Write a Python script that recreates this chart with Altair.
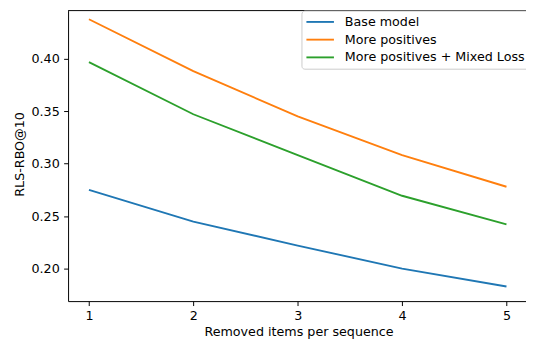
import altair as alt
import pandas as pd

x_vals = [1, 2, 3, 4, 5]
base_model = [0.275, 0.2447, 0.222, 0.200, 0.183]
more_positives = [0.4375, 0.388, 0.345, 0.308, 0.278]
mixed_loss = [0.3966, 0.347, 0.308, 0.2694, 0.2422]
series_names = ["Base model", "More positives", "More positives + Mixed Loss"]
colors = ["#1f77b4", "#ff7f0e", "#2ca02c"]
y_ticks = [0.20, 0.25, 0.30, 0.35, 0.40]

rows = []
for name, vals in zip(series_names, [base_model, more_positives, mixed_loss]):
    for x, v in zip(x_vals, vals):
        rows.append({"x": x, "y": v, "series": name})
df = pd.DataFrame(rows)

W, H = 465, 295
FONT = "DejaVu Sans"
FS = 12.9

lines = alt.Chart(df).mark_line(strokeWidth=1.9, clip=True).encode(
    x=alt.X(
        "x:Q",
        scale=alt.Scale(domain=[0.8, 5.187], nice=False, zero=False),
        axis=alt.Axis(
            values=x_vals, format="d", title="Removed items per sequence",
            tickSize=4.5, labelPadding=4, titleX=234, titleY=35,
            titleAlign="center", titleBaseline="alphabetic",
        ),
    ),
    y=alt.Y(
        "y:Q",
        scale=alt.Scale(domain=[0.1691, 0.4457], nice=False, zero=False),
        axis=alt.Axis(
            values=y_ticks, format=".2f", title="RLS-RBO@10",
            tickSize=4.5, labelPadding=4.5, titleX=-49, titleY=145.5,
            titleAngle=270, titleAlign="center", titleBaseline="middle",
        ),
    ),
    color=alt.Color(
        "series:N",
        scale=alt.Scale(domain=series_names, range=colors),
        legend=alt.Legend(
            title=None, orient="none", legendX=237, legendY=0,
            direction="vertical", symbolType="M-2.15,0H2.15", symbolSize=169,
            symbolStrokeWidth=1.9, symbolOffset=7.5, labelFontSize=FS,
            labelFont=FONT, labelColor="black", fillColor="white",
            strokeColor="#cccccc", padding=4, cornerRadius=3, rowPadding=3,
            labelOffset=17.5, labelLimit=400,
        ),
    ),
)

top_border = alt.Chart(pd.DataFrame({"k": [0]})).mark_rule(
    color="black", strokeWidth=1
).encode(x=alt.value(0), x2=alt.value(W), y=alt.value(0))

chart = alt.layer(lines, top_border).properties(
    width=W, height=H,
    autosize=alt.AutoSizeParams(type="none"),
    padding={"left": 61, "top": 0, "right": 0, "bottom": 47},
).configure_view(stroke=None).configure_axis(
    grid=False, labelFont=FONT, titleFont=FONT, labelFontSize=FS,
    titleFontSize=FS, labelColor="black", titleColor="black",
    domainColor="black", tickColor="black", titleFontWeight="normal",
    domainWidth=1, tickWidth=1,
)

chart.save("out.html", embed_options={"renderer": "svg", "actions": False})
